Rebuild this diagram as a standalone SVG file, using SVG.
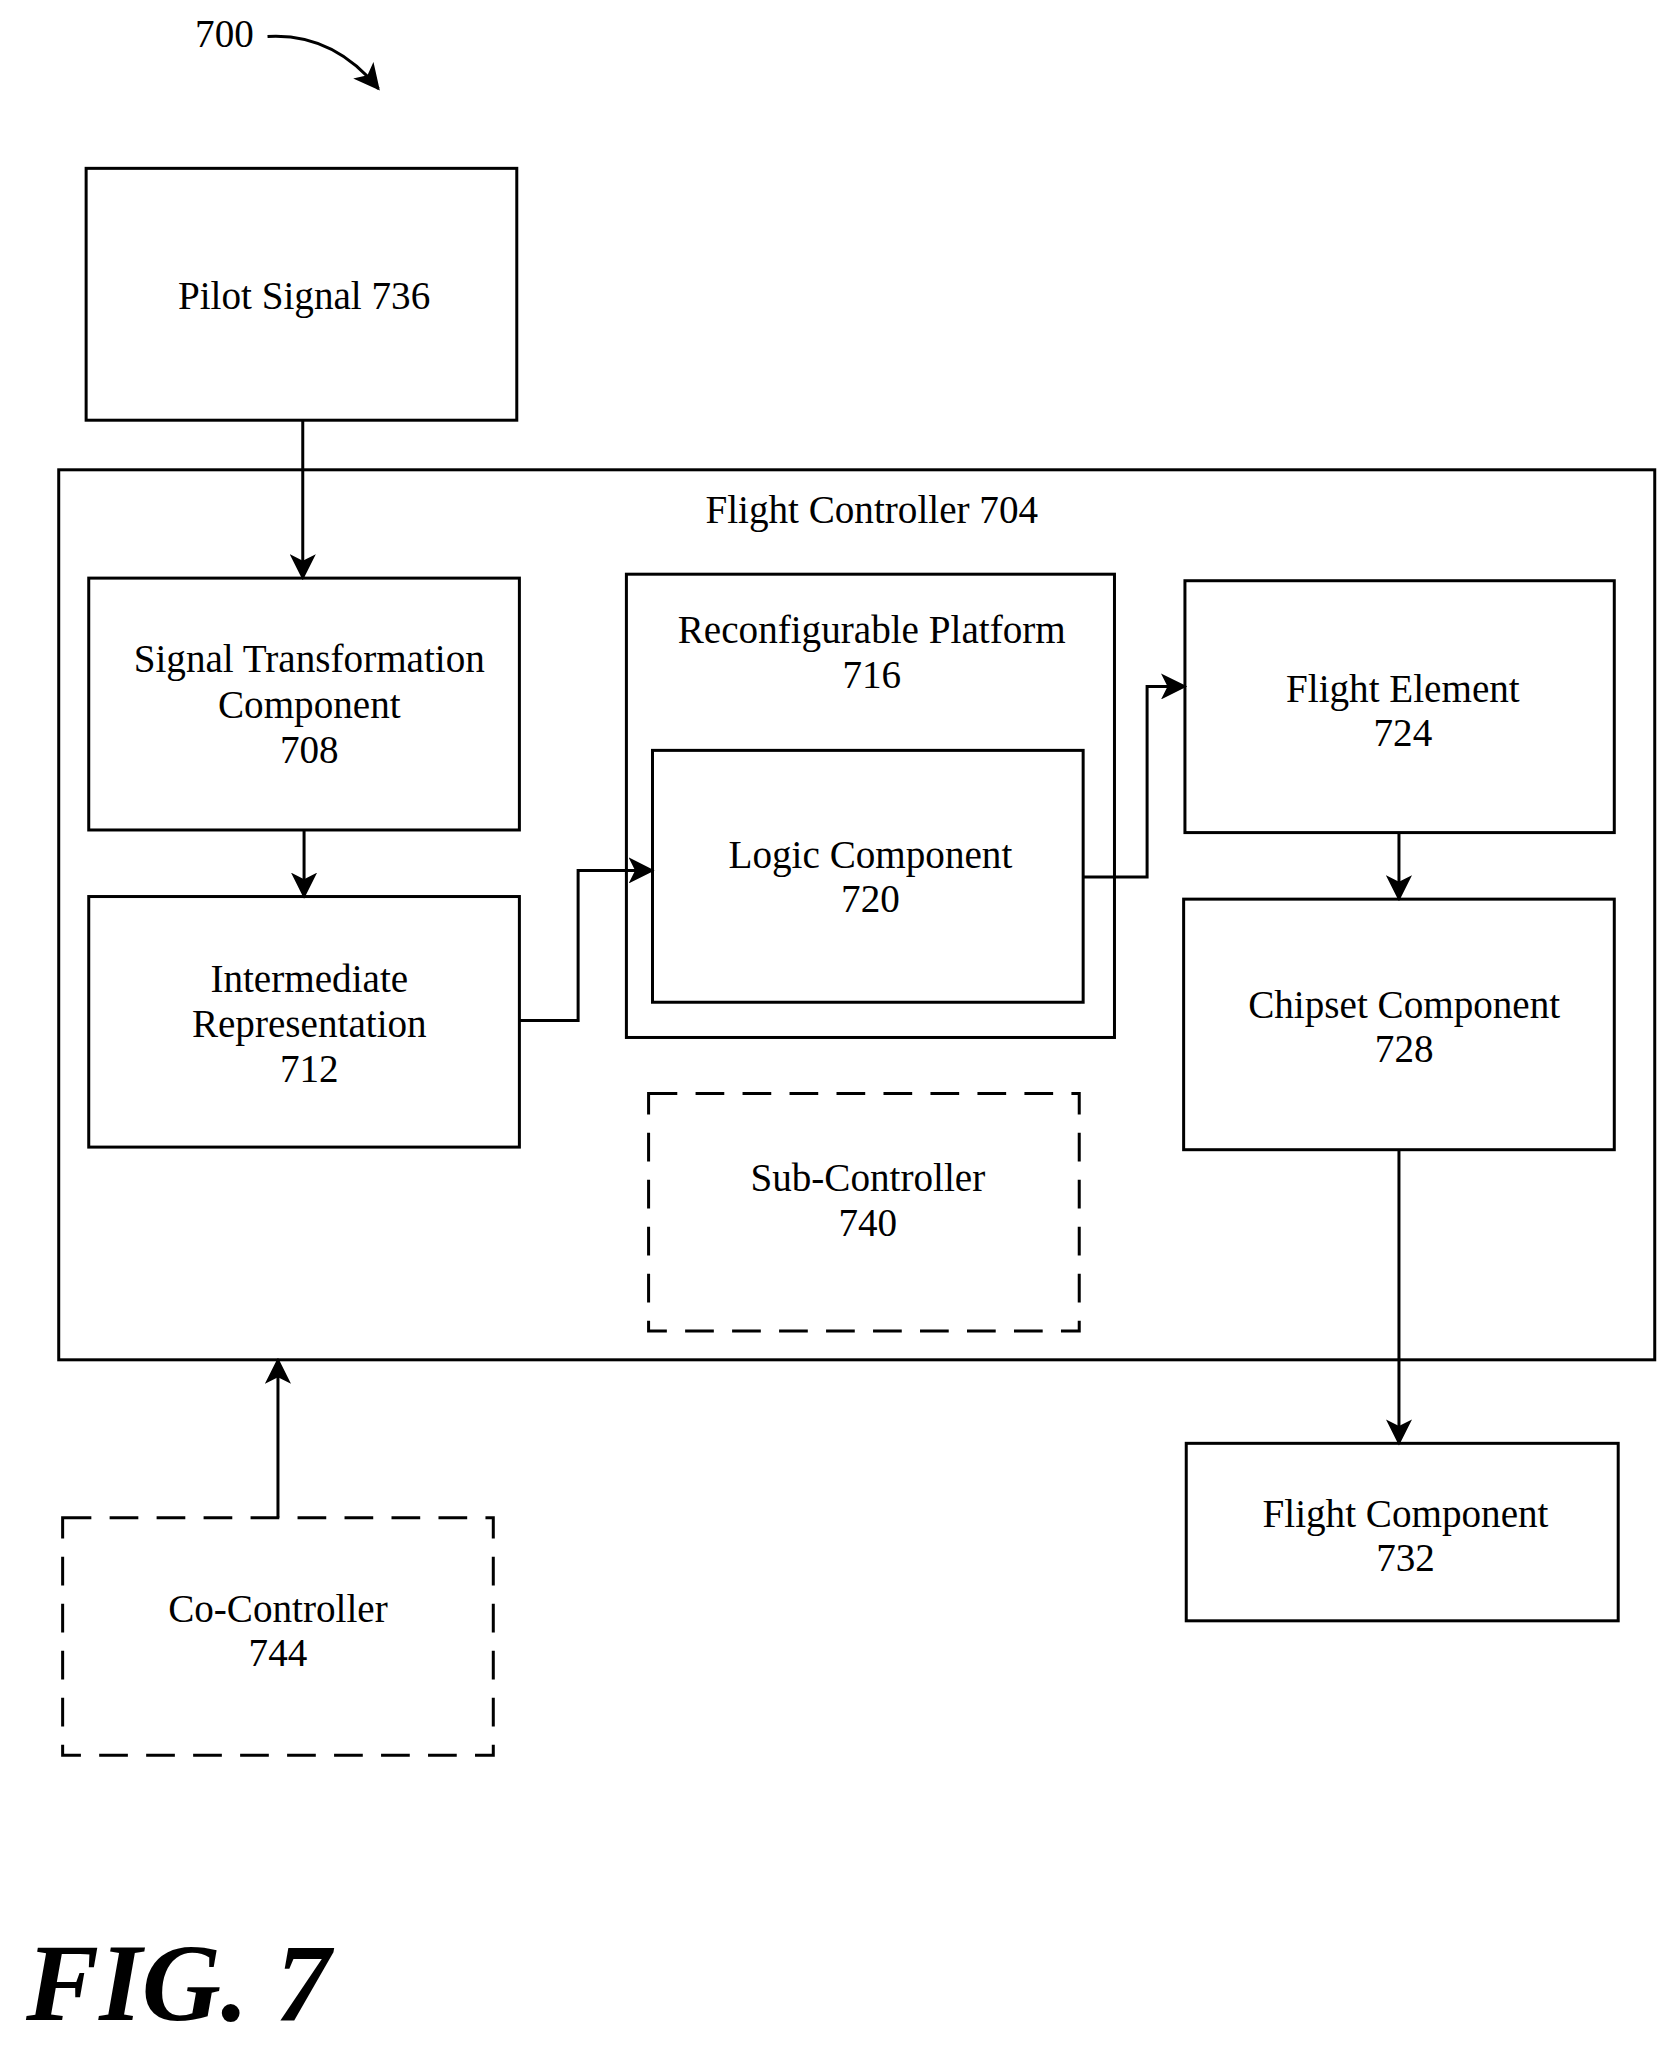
<svg xmlns="http://www.w3.org/2000/svg" width="1676" height="2045" viewBox="0 0 1676 2045">
<defs>
<style>
.b{fill:none;stroke:#000;stroke-width:2.3}
.d{fill:none;stroke:#000;stroke-width:2.3;stroke-dasharray:22,14}
.c{fill:none;stroke:#000;stroke-width:2.3;marker-end:url(#a)}
text{font-family:"Liberation Serif",serif;font-size:30px;text-anchor:middle;fill:#000}
</style>
<marker id="a" viewBox="0 0 12 12" refX="11" refY="6" markerWidth="20" markerHeight="20" markerUnits="userSpaceOnUse" orient="auto"><path d="M0,0 L12,6 L0,12 L3,6 Z" fill="#000"/></marker>
</defs>
<rect width="1676" height="2045" fill="#fff"/>
<g transform="scale(1.305)">
<g id="label700"><text x="172" y="36">700</text><path class="c" d="M205,28 Q255,25 290,68"/></g>
<g id="n736"><rect class="b" x="66" y="129" width="330" height="193"/><text x="233" y="237">Pilot Signal 736</text></g>
<g id="n704"><rect class="b" x="45" y="360" width="1223" height="682"/><text x="668" y="401">Flight Controller 704</text></g>
<g id="n708"><rect class="b" x="68" y="443" width="330" height="193"/><text x="237" y="515">Signal Transformation</text><text x="237" y="550">Component</text><text x="237" y="585">708</text></g>
<g id="n712"><rect class="b" x="68" y="687" width="330" height="192"/><text x="237" y="760">Intermediate</text><text x="237" y="795">Representation</text><text x="237" y="829">712</text></g>
<g id="n716"><rect class="b" x="480" y="440" width="374" height="355"/><text x="668" y="493">Reconfigurable Platform</text><text x="668" y="527">716</text></g>
<g id="n720"><rect class="b" x="500" y="575" width="330" height="193"/><text x="667" y="665">Logic Component</text><text x="667" y="699">720</text></g>
<g id="n724"><rect class="b" x="908" y="445" width="329" height="193"/><text x="1075" y="538">Flight Element</text><text x="1075" y="572">724</text></g>
<g id="n728"><rect class="b" x="907" y="689" width="330" height="192"/><text x="1076" y="780">Chipset Component</text><text x="1076" y="814">728</text></g>
<g id="n740"><rect class="d" x="497" y="838" width="330" height="182"/><text x="665" y="913">Sub-Controller</text><text x="665" y="947">740</text></g>
<g id="n732"><rect class="b" x="909" y="1106" width="331" height="136"/><text x="1077" y="1170">Flight Component</text><text x="1077" y="1204">732</text></g>
<g id="n744"><rect class="d" x="48" y="1163" width="330" height="182"/><text x="213" y="1243">Co-Controller</text><text x="213" y="1277">744</text></g>
<g id="connectors">
<path class="c" d="M232,322 V443"/>
<path class="c" d="M233,636 V687"/>
<path class="c" d="M398,782 H443 V667 H500"/>
<path class="c" d="M830,672 H879 V526 H908"/>
<path class="c" d="M1072,638 V689"/>
<path class="c" d="M1072,881 V1106"/>
<path class="c" d="M213,1163 V1042"/>
</g>
<text x="20" y="1548" style="font-size:84px;font-weight:bold;font-style:italic;text-anchor:start">FIG. 7</text>
</g>
</svg>
